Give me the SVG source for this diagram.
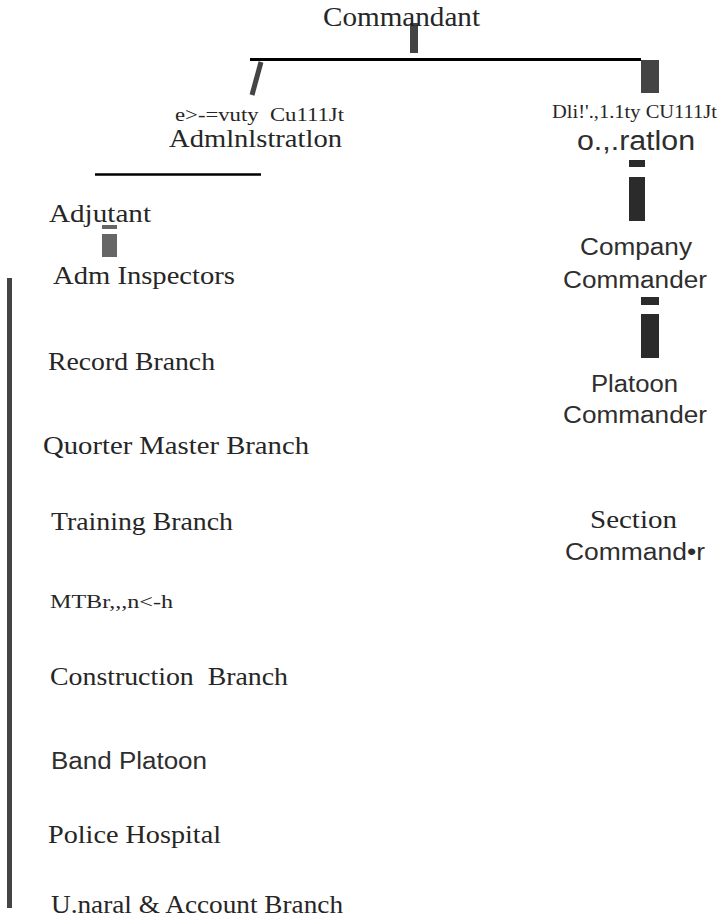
<svg xmlns="http://www.w3.org/2000/svg" width="724" height="917" viewBox="0 0 724 917">
<style>
.s{font-family:"Liberation Serif","Times New Roman",serif;fill:#262626}
.a{font-family:"Liberation Sans",Arial,sans-serif;fill:#2e2e2e}
text{font-size:25px}
.bar{fill:#444}
.dk{fill:#2b2b2b}
.lt{fill:#666}
</style>
<rect width="724" height="917" fill="#fff"/>
<g id="connectors">
<rect class="bar" x="410" y="23" width="8" height="30"/>
<line x1="250" y1="59.5" x2="641" y2="59.5" stroke="#000" stroke-width="3"/>
<line x1="261" y1="62" x2="252" y2="95" stroke="#444" stroke-width="5"/>
<rect class="bar" x="641" y="60" width="18" height="33"/>
<line x1="95" y1="174.5" x2="261" y2="174.5" stroke="#000" stroke-width="2.5"/>
<rect class="lt" x="102" y="225" width="15" height="4"/>
<rect class="lt" x="102" y="234" width="15" height="23"/>
<rect class="bar" x="7" y="278" width="5" height="630"/>
<rect class="dk" x="629" y="160" width="16" height="7"/>
<rect class="dk" x="629" y="177" width="16" height="44"/>
<rect class="dk" x="641" y="297" width="18" height="8"/>
<rect class="dk" x="641" y="314" width="18" height="44"/>
</g>
<g id="commandant"><text class="s" x="323" y="26" style="font-size:28px" textLength="157" lengthAdjust="spacingAndGlyphs">Commandant</text></g>
<g id="deputy-admin">
<text class="s" x="175" y="121" style="font-size:19px" xml:space="preserve" textLength="169" lengthAdjust="spacingAndGlyphs">e&gt;-=vuty  Cu111Jt</text>
<text class="s" x="169" y="147" style="font-size:25px" textLength="173" lengthAdjust="spacingAndGlyphs">Admlnlstratlon</text>
</g>
<g id="deputy-ops">
<text class="s" x="552" y="118" style="font-size:19px" textLength="165" lengthAdjust="spacingAndGlyphs">Dli!'.,1.1ty CU111Jt</text>
<text class="a" x="577" y="150" style="font-size:27px" textLength="118" lengthAdjust="spacingAndGlyphs">o.,.ratlon</text>
</g>
<g id="adjutant"><text class="s" x="49" y="222" style="font-size:26px" textLength="102" lengthAdjust="spacingAndGlyphs">Adjutant</text></g>
<g id="adm-inspectors"><text class="s" x="53" y="284" textLength="182" lengthAdjust="spacingAndGlyphs">Adm Inspectors</text></g>
<g id="record-branch"><text class="s" x="48" y="370" textLength="167" lengthAdjust="spacingAndGlyphs">Record Branch</text></g>
<g id="qm-branch"><text class="s" x="43" y="454" textLength="266" lengthAdjust="spacingAndGlyphs">Quorter Master Branch</text></g>
<g id="training-branch"><text class="s" x="51" y="530" textLength="182" lengthAdjust="spacingAndGlyphs" fill="#444">Training Branch</text></g>
<g id="mt-branch"><text class="s" x="50" y="608" style="font-size:19px" textLength="123" lengthAdjust="spacingAndGlyphs">MTBr,,,n&lt;-h</text></g>
<g id="construction-branch"><text class="s" x="50" y="685" xml:space="preserve" textLength="238" lengthAdjust="spacingAndGlyphs">Construction  Branch</text></g>
<g id="band-platoon"><text class="a" x="51" y="769" style="font-size:23px" textLength="156" lengthAdjust="spacingAndGlyphs">Band Platoon</text></g>
<g id="police-hospital"><text class="s" x="48" y="843" textLength="173" lengthAdjust="spacingAndGlyphs">Police Hospital</text></g>
<g id="account-branch"><text class="s" x="51" y="913" textLength="292" lengthAdjust="spacingAndGlyphs" fill="#444">U.naral &amp; Account Branch</text></g>
<g id="company-commander">
<text class="a" x="580" y="255" style="font-size:23px" textLength="112" lengthAdjust="spacingAndGlyphs" fill="#444">Company</text>
<text class="a" x="563" y="288" style="font-size:23px" textLength="144" lengthAdjust="spacingAndGlyphs">Commander</text>
</g>
<g id="platoon-commander">
<text class="a" x="591" y="392" style="font-size:23px" textLength="87" lengthAdjust="spacingAndGlyphs">Platoon</text>
<text class="a" x="563" y="423" style="font-size:23px" textLength="144" lengthAdjust="spacingAndGlyphs">Commander</text>
</g>
<g id="section-commander">
<text class="s" x="590" y="528" textLength="87" lengthAdjust="spacingAndGlyphs">Section</text>
<text class="a" x="565" y="560" style="font-size:23px" textLength="140" lengthAdjust="spacingAndGlyphs">Command•r</text>
</g>
</svg>
